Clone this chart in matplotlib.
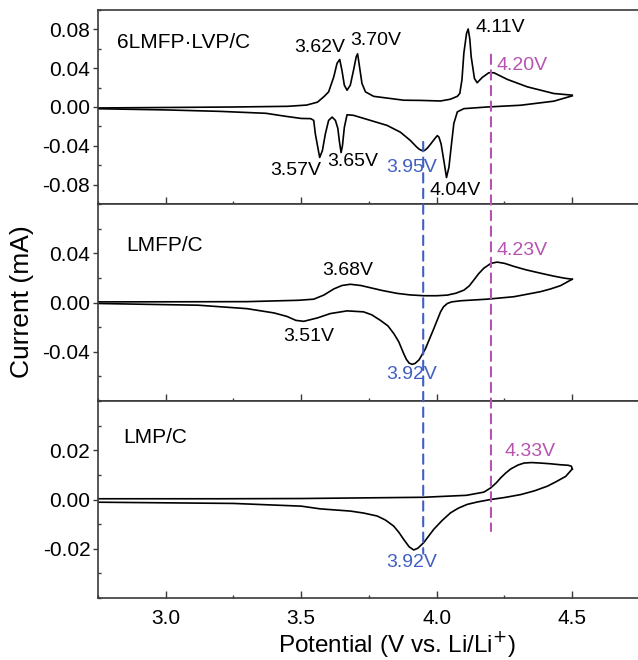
import matplotlib
matplotlib.use("Agg")
import matplotlib.pyplot as plt
from matplotlib.patches import ConnectionPatch
from matplotlib.ticker import MultipleLocator, FixedLocator, FormatStrFormatter

# ---------------- data ----------------
# 6LMFP·LVP/C
top_anodic_v = [2.75, 3.00, 3.25, 3.45, 3.52, 3.56, 3.585, 3.601, 3.62, 3.632, 3.642, 3.65, 3.659,
                3.669, 3.681, 3.693, 3.703, 3.708, 3.715, 3.724, 3.737, 3.767, 3.878, 3.94, 4.014,
                4.05, 4.076, 4.085, 4.093, 4.100, 4.110, 4.116, 4.122, 4.127, 4.139, 4.149, 4.168,
                4.192, 4.211, 4.26, 4.334, 4.432, 4.50]
top_anodic_i = [-0.001, -0.0005, 0.0, 0.0007, 0.002, 0.005, 0.011, 0.0156, 0.031, 0.045, 0.049, 0.038,
                0.0225, 0.0173, 0.0225, 0.038, 0.052, 0.0548, 0.0416, 0.0243, 0.0156, 0.011, 0.007,
                0.0068, 0.0062, 0.008, 0.011, 0.014, 0.028, 0.0555, 0.076, 0.0804, 0.070, 0.052,
                0.0295, 0.025, 0.0305, 0.0353, 0.0353, 0.0285, 0.0208, 0.0139, 0.0122]
top_cathodic_v = [4.50, 4.432, 4.309, 4.186, 4.10, 4.076, 4.063, 4.053, 4.045, 4.036, 4.026, 4.016,
                  4.008, 4.002, 3.992, 3.978, 3.965, 3.955, 3.946, 3.935, 3.925, 3.903, 3.866, 3.817,
                  3.755, 3.693, 3.669, 3.659, 3.652, 3.647, 3.641, 3.635, 3.626, 3.614, 3.601, 3.589,
                  3.578, 3.568, 3.560, 3.552, 3.546, 3.535, 3.50, 3.44, 3.37, 3.20, 3.00, 2.75]
top_cathodic_i = [0.0115, 0.006, 0.0018, 0.0, -0.0017, -0.005, -0.017, -0.0416, -0.062, -0.0727,
                  -0.055, -0.038, -0.031, -0.0295, -0.0329, -0.038, -0.0425, -0.0448, -0.045, -0.0435,
                  -0.041, -0.0346, -0.026, -0.019, -0.0138, -0.0086, -0.008, -0.021, -0.040, -0.047,
                  -0.036, -0.022, -0.0138, -0.0104, -0.0138, -0.0277, -0.045, -0.052, -0.040,
                  -0.0277, -0.0138, -0.012, -0.0118, -0.0095, -0.0065, -0.0045, -0.003, -0.0018]

# LMFP/C
mid_anodic_v = [2.75, 3.10, 3.30, 3.42, 3.49, 3.546, 3.583, 3.62, 3.65, 3.681, 3.72, 3.755, 3.80,
                3.854, 3.90, 3.952, 4.00, 4.039, 4.07, 4.10, 4.12, 4.137, 4.155, 4.174, 4.20, 4.223,
                4.25, 4.285, 4.33, 4.383, 4.43, 4.47, 4.50]
mid_anodic_i = [0.0005, 0.0006, 0.0007, 0.0014, 0.0018, 0.0027, 0.006, 0.011, 0.0138, 0.0148, 0.0138,
                0.012, 0.0097, 0.0074, 0.0062, 0.0055, 0.0055, 0.006, 0.0075, 0.010, 0.0135, 0.0183,
                0.0235, 0.0279, 0.0318, 0.0328, 0.0318, 0.0293, 0.0265, 0.0238, 0.0215, 0.0198, 0.0189]
mid_cathodic_v = [4.50, 4.48, 4.457, 4.42, 4.383, 4.285, 4.186, 4.088, 4.055, 4.039, 4.025, 4.014,
                  3.989, 3.958, 3.935, 3.92, 3.909, 3.898, 3.888, 3.878, 3.86, 3.842, 3.82, 3.792,
                  3.76, 3.73, 3.669, 3.607, 3.56, 3.509, 3.48, 3.447, 3.40, 3.30, 3.12, 2.75]
mid_cathodic_i = [0.0189, 0.0165, 0.0137, 0.011, 0.0088, 0.0047, 0.0027, 0.0014, 0.0005, -0.0008,
                  -0.0035, -0.0076, -0.0213, -0.0377, -0.0465, -0.0495, -0.0502, -0.0492, -0.0462,
                  -0.0415, -0.032, -0.0254, -0.019, -0.0145, -0.010, -0.0076, -0.0068, -0.009,
                  -0.0125, -0.0153, -0.0145, -0.0113, -0.0085, -0.005, -0.0022, -0.0008]

# LMP/C
bot_anodic_v = [2.75, 3.20, 3.50, 3.95, 4.11, 4.174, 4.199, 4.22, 4.236, 4.255, 4.273, 4.30, 4.322,
                4.35, 4.383, 4.42, 4.457, 4.485, 4.497, 4.50]
bot_anodic_i = [0.0003, 0.0003, 0.0004, 0.0009, 0.0017, 0.003, 0.0047, 0.0068, 0.0088, 0.0108, 0.0124,
                0.014, 0.0148, 0.015, 0.0148, 0.0145, 0.0141, 0.0139, 0.0135, 0.0124]
bot_cathodic_v = [4.50, 4.476, 4.44, 4.408, 4.36, 4.31, 4.25, 4.199, 4.15, 4.112, 4.08, 4.051, 4.02,
                  3.989, 3.952, 3.93, 3.915, 3.898, 3.878, 3.86, 3.841, 3.81, 3.78, 3.73, 3.681,
                  3.57, 3.50, 3.25, 2.75]
bot_cathodic_i = [0.0124, 0.0094, 0.0072, 0.0054, 0.0035, 0.002, 0.0008, 0.0, -0.001, -0.002, -0.0035,
                  -0.0054, -0.0085, -0.0121, -0.0175, -0.0198, -0.0205, -0.0192, -0.0162, -0.0133,
                  -0.0108, -0.0083, -0.0067, -0.0055, -0.0047, -0.0038, -0.0027, -0.0016, -0.0011]

panel_names = ["6LMFP\u00b7LVP/C", "LMFP/C", "LMP/C"]
top_yticks = [-0.08, -0.04, 0.0, 0.04, 0.08]
mid_yticks = [-0.04, 0.0, 0.04]
bot_yticks = [-0.02, 0.0, 0.02]
x_ticks = [3.0, 3.5, 4.0, 4.5]

top_labels = [("3.62V", 3.567, 0.061, "k"), ("3.70V", 3.774, 0.069, "k"), ("4.11V", 4.236, 0.082, "k"),
              ("4.20V", 4.313, 0.0425, "m"), ("3.57V", 3.478, -0.0658, "k"), ("3.65V", 3.689, -0.0564, "k"),
              ("3.95V", 3.907, -0.0621, "b"), ("4.04V", 4.069, -0.086, "k")]
mid_labels = [("3.68V", 3.67, 0.0258, "k"), ("3.51V", 3.526, -0.0279, "k"),
              ("4.23V", 4.313, 0.0426, "m"), ("3.92V", 3.909, -0.0586, "b")]
bot_labels = [("4.33V", 4.343, 0.0194, "m"), ("3.92V", 3.907, -0.0257, "b")]

blue_v, blue_top_i, blue_bot_i = 3.95, -0.036, -0.022
mag_v, mag_top_i, mag_bot_i = 4.20, 0.054, -0.0128

# ---------------- style ----------------
plt.rcParams['font.family'] = ['Liberation Sans', 'DejaVu Sans']
plt.rcParams['axes.unicode_minus'] = False
BLUE = '#3f5fc4'
MAG = '#b653b0'
cmap = {"k": "black", "b": BLUE, "m": MAG}
SPINE = '#3a3a3a'

fig = plt.figure(figsize=(6.38, 6.60), dpi=100)
L = 98 / 638
W = (640 - 98) / 638
ax1 = fig.add_axes([L, (660 - 204) / 660, W, 194 / 660])
ax2 = fig.add_axes([L, (660 - 401) / 660, W, 197 / 660])
ax3 = fig.add_axes([L, (660 - 598) / 660, W, 197 / 660])
axes = [ax1, ax2, ax3]

data = [(top_anodic_v, top_anodic_i, top_cathodic_v, top_cathodic_i),
        (mid_anodic_v, mid_anodic_i, mid_cathodic_v, mid_cathodic_i),
        (bot_anodic_v, bot_anodic_i, bot_cathodic_v, bot_cathodic_i)]
ylims = [(-0.1, 0.1), (-0.08, 0.08), (-0.04, 0.04)]
yticks = [top_yticks, mid_yticks, bot_yticks]
yminor = [0.02, 0.02, 0.01]
labels = [top_labels, mid_labels, bot_labels]
name_pos = [(2.82, 0.066), (2.853, 0.0463), (2.842, 0.025)]

for ax, (av, ai, cv, ci), yl, yt, ymn, labs, nm, npos in zip(axes, data, ylims, yticks, yminor,
                                                              labels, panel_names, name_pos):
    ax.plot(av, ai, color='black', lw=1.2, solid_joinstyle='round')
    ax.plot(cv, ci, color='black', lw=1.2, solid_joinstyle='round')
    ax.set_xlim(2.75, 4.75)
    ax.set_ylim(*yl)
    ax.xaxis.set_major_locator(FixedLocator(x_ticks))
    ax.xaxis.set_minor_locator(MultipleLocator(0.25))
    ax.yaxis.set_major_locator(FixedLocator(yt))
    ax.yaxis.set_minor_locator(MultipleLocator(ymn))
    ax.yaxis.set_major_formatter(FormatStrFormatter('%.2f'))
    ax.xaxis.set_major_formatter(FormatStrFormatter('%.1f'))
    for s in ['left', 'bottom', 'top']:
        ax.spines[s].set_color(SPINE)
        ax.spines[s].set_linewidth(1.2)
    ax.spines['right'].set_visible(False)
    ax.tick_params(axis='x', which='major', direction='in', length=5, width=1.0, color=SPINE,
                   labelsize=15, pad=8, top=False)
    ax.tick_params(axis='x', which='minor', direction='in', length=2.5, width=1.0, color=SPINE, top=False)
    ax.tick_params(axis='y', which='major', direction='out', length=3.5, width=1.0, color=SPINE,
                   labelsize=15, pad=2)
    ax.tick_params(axis='y', which='minor', direction='in', length=2.5, width=1.0, color=SPINE)
    ax.text(npos[0], npos[1], nm, fontsize=15, ha='left', va='center')
    for t, x, y, c in labs:
        ax.text(x, y, t, fontsize=14, ha='center', va='center', color=cmap[c])

ax1.tick_params(axis='x', labelbottom=False)
ax2.tick_params(axis='x', labelbottom=False)

ax3.set_xlabel('Potential (V vs. Li/Li$^{+}$)', fontsize=17.5, va='center')
ax3.xaxis.set_label_coords((397 - 98) / (640 - 98), -(644 - 598) / 197)
fig.text(22 / 638, 1 - 302 / 660, 'Current (mA)', rotation=90, fontsize=19, ha='center', va='center')

for v, i1, i3, col in [(blue_v, blue_top_i, blue_bot_i, BLUE), (mag_v, mag_top_i, mag_bot_i, MAG)]:
    con = ConnectionPatch(xyA=(v, i1), coordsA=ax1.transData, xyB=(v, i3), coordsB=ax3.transData,
                          color=col, lw=1.5, linestyle=(0, (4.5, 3)), zorder=5)
    fig.add_artist(con)

fig.savefig('out.png', dpi=100)
